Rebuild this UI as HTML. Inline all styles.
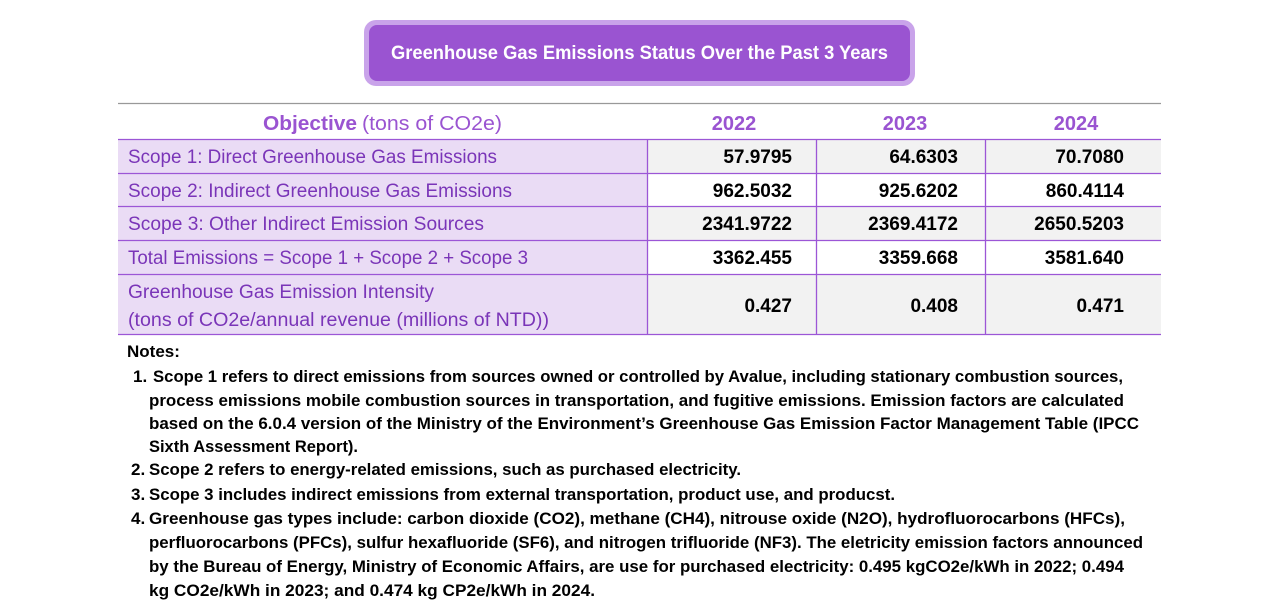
<!DOCTYPE html>
<html><head><meta charset="utf-8"><style>
html,body{margin:0;padding:0;background:#fff;}
svg{display:block;font-family:"Liberation Sans",sans-serif;}
.p{fill:#7a35b8;font-size:19px;}
.v{fill:#000;font-size:19px;font-weight:bold;text-anchor:end;}
.n{fill:#000;font-size:17px;font-weight:bold;}
</style></head><body>
<svg width="1281" height="612" viewBox="0 0 1281 612">
<rect x="364" y="20" width="551" height="66" rx="12" fill="#c9a3ea"/>
<rect x="369" y="25" width="541" height="56" rx="8" fill="#9a54d1"/>
<text x="639.5" y="59" text-anchor="middle" fill="#fff" font-size="19" font-weight="bold" textLength="497" lengthAdjust="spacingAndGlyphs">Greenhouse Gas Emissions Status Over the Past 3 Years</text>

<rect x="118" y="139" width="529" height="195" fill="#eadcf5"/>
<rect x="647" y="139" width="514" height="34" fill="#f2f2f2"/>
<rect x="647" y="206" width="514" height="34" fill="#f2f2f2"/>
<rect x="647" y="274" width="514" height="60" fill="#f2f2f2"/>
<g stroke="#9c56d6" stroke-width="1.3">
<line x1="118" y1="103.5" x2="1161" y2="103.5" stroke="#999"/>
<line x1="118" y1="139.5" x2="1161" y2="139.5"/>
<line x1="118" y1="173.5" x2="1161" y2="173.5"/>
<line x1="118" y1="206.5" x2="1161" y2="206.5"/>
<line x1="118" y1="240.5" x2="1161" y2="240.5"/>
<line x1="118" y1="274.5" x2="1161" y2="274.5"/>
<line x1="118" y1="334.5" x2="1161" y2="334.5"/>
<line x1="647.5" y1="139" x2="647.5" y2="334"/>
<line x1="816.5" y1="139" x2="816.5" y2="334"/>
<line x1="985.5" y1="139" x2="985.5" y2="334"/>
</g>
<text y="130" font-size="20" fill="#9a54d1"><tspan x="263" font-weight="bold" textLength="94" lengthAdjust="spacingAndGlyphs">Objective</tspan><tspan x="362" textLength="140" lengthAdjust="spacingAndGlyphs">(tons of CO2e)</tspan></text>
<g font-size="20" font-weight="bold" fill="#9a54d1" text-anchor="middle">
<text x="734" y="130">2022</text><text x="905" y="130">2023</text><text x="1076" y="130">2024</text></g>
<text class="p" x="128" y="163" textLength="369" lengthAdjust="spacingAndGlyphs">Scope 1: Direct Greenhouse Gas Emissions</text>
<text class="p" x="128" y="197" textLength="384" lengthAdjust="spacingAndGlyphs">Scope 2: Indirect Greenhouse Gas Emissions</text>
<text class="p" x="128" y="230" textLength="356" lengthAdjust="spacingAndGlyphs">Scope 3: Other Indirect Emission Sources</text>
<text class="p" x="128" y="264" textLength="400" lengthAdjust="spacingAndGlyphs">Total Emissions = Scope 1 + Scope 2 + Scope 3</text>
<text class="p" x="128" y="298" textLength="306" lengthAdjust="spacingAndGlyphs">Greenhouse Gas Emission Intensity</text>
<text class="p" x="128" y="326" textLength="421" lengthAdjust="spacingAndGlyphs">(tons of CO2e/annual revenue (millions of NTD))</text>

<text class="v" x="792" y="163">57.9795</text><text class="v" x="958" y="163">64.6303</text><text class="v" x="1124" y="163">70.7080</text>
<text class="v" x="792" y="197">962.5032</text><text class="v" x="958" y="197">925.6202</text><text class="v" x="1124" y="197">860.4114</text>
<text class="v" x="792" y="230">2341.9722</text><text class="v" x="958" y="230">2369.4172</text><text class="v" x="1124" y="230">2650.5203</text>
<text class="v" x="792" y="264">3362.455</text><text class="v" x="958" y="264">3359.668</text><text class="v" x="1124" y="264">3581.640</text>
<text class="v" x="792" y="312">0.427</text><text class="v" x="958" y="312">0.408</text><text class="v" x="1124" y="312">0.471</text>

<text class="n" x="127" y="357">Notes:</text>
<text class="n" x="133" y="382">1.</text>
<text class="n" x="153" y="382" textLength="970" lengthAdjust="spacingAndGlyphs">Scope 1 refers to direct emissions from sources owned or controlled by Avalue, including stationary combustion sources,</text>
<text class="n" x="149" y="406" textLength="975" lengthAdjust="spacingAndGlyphs">process emissions mobile combustion sources in transportation, and fugitive emissions. Emission factors are calculated</text>
<text class="n" x="149" y="429" textLength="990" lengthAdjust="spacingAndGlyphs">based on the 6.0.4 version of the Ministry of the Environment’s Greenhouse Gas Emission Factor Management Table (IPCC</text>
<text class="n" x="149" y="452" textLength="209" lengthAdjust="spacingAndGlyphs">Sixth Assessment Report).</text>
<text class="n" x="131" y="475">2.</text>
<text class="n" x="149" y="475" textLength="592" lengthAdjust="spacingAndGlyphs">Scope 2 refers to energy-related emissions, such as purchased electricity.</text>
<text class="n" x="131" y="500">3.</text>
<text class="n" x="149" y="500" textLength="746" lengthAdjust="spacingAndGlyphs">Scope 3 includes indirect emissions from external transportation, product use, and producst.</text>
<text class="n" x="131" y="524">4.</text>
<text class="n" x="149" y="524" textLength="976" lengthAdjust="spacingAndGlyphs">Greenhouse gas types include: carbon dioxide (CO2), methane (CH4), nitrouse oxide (N2O), hydrofluorocarbons (HFCs),</text>
<text class="n" x="149" y="548" textLength="994" lengthAdjust="spacingAndGlyphs">perfluorocarbons (PFCs), sulfur hexafluoride (SF6), and nitrogen trifluoride (NF3). The eletricity emission factors announced</text>
<text class="n" x="149" y="572" textLength="975" lengthAdjust="spacingAndGlyphs">by the Bureau of Energy, Ministry of Economic Affairs, are use for purchased electricity: 0.495 kgCO2e/kWh in 2022; 0.494</text>
<text class="n" x="149" y="596" textLength="446" lengthAdjust="spacingAndGlyphs">kg CO2e/kWh in 2023; and 0.474 kg CP2e/kWh in 2024.</text>
</svg>
</body></html>
